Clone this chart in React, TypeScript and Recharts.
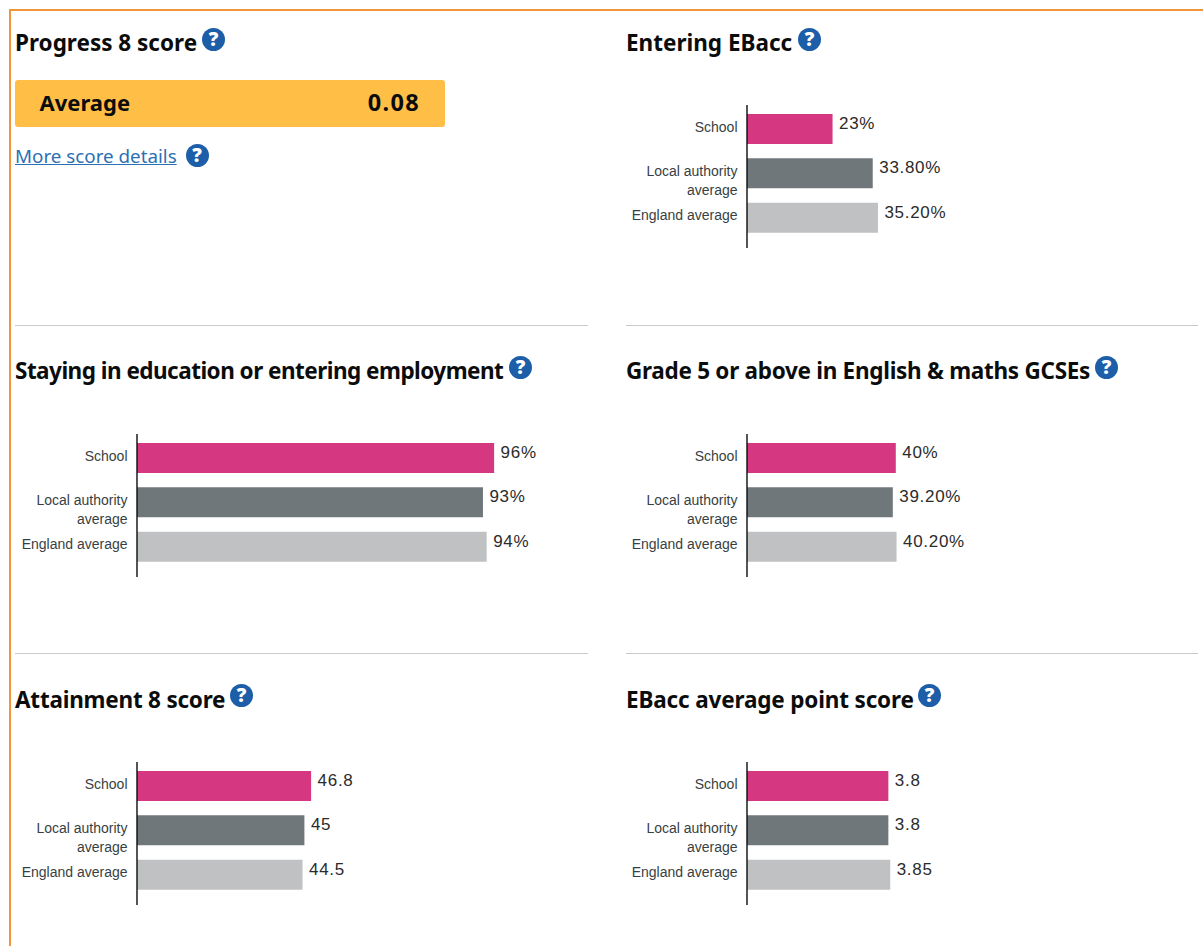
import { Bar, BarChart, Cell, LabelList, XAxis, YAxis } from 'recharts'

const CATEGORIES = ['School', 'Local authority average', 'England average']
const BAR_COLORS = ['#d53880', '#6f777b', '#bfc1c3']
const SANS = '"Liberation Sans", Arial, sans-serif'
const HEADING = '"Noto Sans", sans-serif'

const enteringValues = [23, 33.8, 35.2]
const enteringLabels = ['23%', '33.80%', '35.20%']
const stayingValues = [96, 93, 94]
const stayingLabels = ['96%', '93%', '94%']
const gradeValues = [40, 39.2, 40.2]
const gradeLabels = ['40%', '39.20%', '40.20%']
const attainmentValues = [46.8, 45, 44.5]
const attainmentLabels = ['46.8', '45', '44.5']
const ebaccValues = [3.8, 3.8, 3.85]
const ebaccLabels = ['3.8', '3.8', '3.85']

function CategoryTick({ y, payload }: any) {
  const lines = payload.value === 'Local authority average' ? ['Local authority', 'average'] : [payload.value]
  return (
    <text x={127.5} y={y - 2.5} textAnchor="end" dominantBaseline="central" fontSize={14} fontFamily={SANS} fill="#383f43">
      {lines.map((line, i) => (
        <tspan key={line} x={127.5} dy={i === 0 ? 0 : 19}>
          {line}
        </tspan>
      ))}
    </text>
  )
}

function ScoreChart({ left, top, values, labels, max }: { left: number; top: number; values: number[]; labels: string[]; max: number }) {
  const data = CATEGORIES.map((name, i) => ({ name, value: values[i], label: labels[i] }))

  const renderLabel = ({ x, y, width, height, index }: any) => (
    <text x={x + width + 6.5} y={y + height / 2 - 5.5} dominantBaseline="central" fontSize={17} fontFamily={SANS} fill="#2b2b2b" letterSpacing={0.7}>
      {labels[index]}
    </text>
  )

  return (
    <div style={{ position: 'absolute', left, top }}>
      <BarChart
        width={570}
        height={163}
        data={data}
        layout="vertical"
        barSize={30}
        margin={{ top: 10, right: 61, bottom: 10, left: 0 }}
      >
        <XAxis type="number" domain={[0, max]} hide />
        <YAxis
          type="category"
          dataKey="name"
          width={137}
          interval={0}
          padding={{ top: 2, bottom: 8 }}
          tick={<CategoryTick />}
          tickLine={false}
          axisLine={{ stroke: '#0b0c0c', strokeWidth: 1.4 }}
        />
        <Bar dataKey="value" isAnimationActive={false}>
          {data.map((d, i) => (
            <Cell key={d.name} fill={BAR_COLORS[i]} />
          ))}
          <LabelList dataKey="label" content={renderLabel} />
        </Bar>
      </BarChart>
    </div>
  )
}

function HelpIcon({ left, top, size = 23 }: { left: number; top: number; size?: number }) {
  return (
    <div
      style={{
        position: 'absolute',
        left,
        top,
        width: size,
        height: size,
        borderRadius: '50%',
        background: '#1d5ea8',
        color: '#fff',
        fontFamily: HEADING,
        fontWeight: 900,
        fontSize: 19,
        lineHeight: `${size}px`,
        textAlign: 'center',
      }}
    >
      ?
    </div>
  )
}

function Heading({ left, top, text, iconLeft, iconTop, spacing = 0 }: { left: number; top: number; text: string; iconLeft: number; iconTop: number; spacing?: number }) {
  return (
    <>
      <div
        style={{
          position: 'absolute',
          left,
          top,
          fontFamily: HEADING,
          fontWeight: 700,
          fontSize: 22.5,
          lineHeight: '30px',
          letterSpacing: spacing,
          color: '#0b0c0c',
          whiteSpace: 'nowrap',
        }}
      >
        {text}
      </div>
      <HelpIcon left={iconLeft} top={iconTop} />
    </>
  )
}

function Divider({ left, top, width = 573 }: { left: number; top: number; width?: number }) {
  return <div style={{ position: 'absolute', left, top, width, height: 1, background: '#c8cacb' }} />
}

export default function App() {
  return (
    <div style={{ position: 'absolute', left: 0, top: 0, width: 1203, height: 946, overflow: 'hidden', background: '#fff' }}>
      <div style={{ position: 'absolute', left: 9, top: 9, width: 1300, height: 1000, border: '2px solid #f0953a' }} />

      <Heading left={15} top={28} text="Progress 8 score" iconLeft={202} iconTop={28} />
      <div
        style={{
          position: 'absolute',
          left: 15,
          top: 79,
          width: 430,
          height: 47,
          fontFamily: HEADING,
          fontWeight: 700,
          fontSize: 22,
          lineHeight: '47px',
          color: '#0b0c0c',
        }}
      >
        <div style={{ position: 'absolute', left: 0, top: 1, width: 430, height: 47, borderRadius: 3, background: '#ffbf47' }} />
        <span style={{ position: 'absolute', left: 24.5 }}>Average</span>
        <span style={{ position: 'absolute', right: 25, fontSize: 23.5, letterSpacing: 1.3 }}>0.08</span>
      </div>
      <div
        style={{
          position: 'absolute',
          left: 15,
          top: 143,
          fontFamily: HEADING,
          fontSize: 18.8,
          lineHeight: '26px',
          color: '#2b70b3',
          textDecoration: 'underline',
        }}
      >
        More score details
      </div>
      <HelpIcon left={185.5} top={144} />

      <Heading left={626} top={28} text="Entering EBacc" iconLeft={798} iconTop={28} />
      <ScoreChart left={610} top={95} values={enteringValues} labels={enteringLabels} max={100} />

      <Divider left={15} top={325} />
      <Divider left={626} top={325} width={572} />

      <Heading left={15} top={356} text="Staying in education or entering employment" iconLeft={509} iconTop={356} spacing={-0.52} />
      <ScoreChart left={0} top={424} values={stayingValues} labels={stayingLabels} max={100} />
      <Heading left={626} top={356} text="Grade 5 or above in English & maths GCSEs" iconLeft={1095} iconTop={356} spacing={-0.28} />
      <ScoreChart left={610} top={424} values={gradeValues} labels={gradeLabels} max={100} />

      <Divider left={15} top={653} />
      <Divider left={626} top={653} width={572} />

      <Heading left={15} top={684.5} text="Attainment 8 score" iconLeft={230} iconTop={684} spacing={-0.22} />
      <ScoreChart left={0} top={752} values={attainmentValues} labels={attainmentLabels} max={100} />
      <Heading left={626} top={684.5} text="EBacc average point score" iconLeft={918} iconTop={684} spacing={-0.16} />
      <ScoreChart left={610} top={752} values={ebaccValues} labels={ebaccLabels} max={10} />
    </div>
  )
}
